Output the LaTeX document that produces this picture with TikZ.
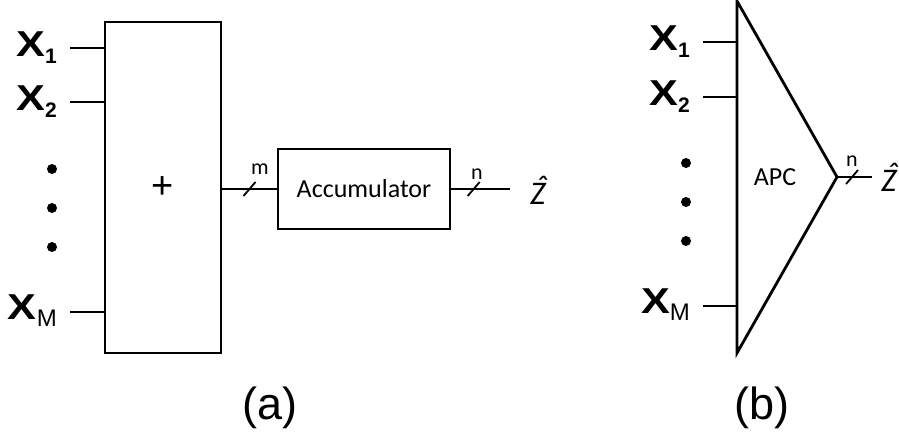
\documentclass[tikz,border=0pt]{standalone}
\usepackage{fontspec}
\setmainfont{Liberation Sans}
\newfontfamily\calib{Carlito}
\usetikzlibrary{positioning}

\newcommand{\inx}[1]{\scalebox{1.2}[1]{\bfseries X}\raisebox{-7pt}{#1}}
\newcommand{\zhat}{\makebox[0pt][l]{\hspace{0.16em}\raisebox{0.2em}{\char"02C6}}Z}

\begin{document}
\begin{tikzpicture}[x=1pt, y=-1pt,
    blk/.style={draw, line width=2.8pt, inner sep=0pt},
    wire/.style={line width=1.8pt},
    inlbl/.style={anchor=east, inner sep=0pt, font=\fontsize{36}{36}\selectfont},
    sub/.style={font=\calib\fontsize{22}{22}\selectfont, inner sep=0pt},
    dot/.style={circle, fill, inner sep=0pt, minimum size=10pt},
    zlbl/.style={anchor=base west, inner sep=0pt, font=\calib\itshape\fontsize{33}{33}\selectfont},
    figcap/.style={font=\fontsize{45}{45}\selectfont, inner sep=0pt}
]
    \useasboundingbox (0,0) rectangle (899,435);

    % (a) adder + accumulator
    \node[blk, minimum width=116, minimum height=331] (sum) at (163,187.5) {};
    \node[font=\fontsize{38}{38}\selectfont] (plus) at (163,188) {+};
    \node[blk, minimum width=172, minimum height=80, font=\calib\fontsize{26}{26}\selectfont] (acc) at (364,189) {Accumulator};

    \coordinate (a1) at (70,48);
    \coordinate (a2) at (70,102);
    \coordinate (aM) at (70,312);
    \node[inlbl] (ax1) at (57,48) {\inx{\fontsize{21}{21}\selectfont\bfseries 1}};
    \node[inlbl] (ax2) at (57,102) {\inx{\fontsize{21}{21}\selectfont\bfseries 2}};
    \node[inlbl] (axM) at (57,311) {\inx{\fontsize{24}{24}\selectfont M}};
    \draw[wire] (a1) -- (a1 -| sum.west);
    \draw[wire] (a2) -- (a2 -| sum.west);
    \draw[wire] (aM) -- (aM -| sum.west);
    \node[dot] (ad1) at (52,169) {};
    \node[dot] (ad2) at (52,208) {};
    \node[dot] (ad3) at (52,247) {};

    \draw[wire] (sum.east |- acc.west) -- coordinate (mslash) (acc.west);
    \draw[wire] ([shift={(-6,7)}]mslash) -- ([shift={(6,-7)}]mslash);
    \node[sub] (mlbl) at (260,169) {m};

    \coordinate (zout) at (510,189);
    \draw[wire] (acc.east) -- coordinate[pos=0.38] (nslash) (zout);
    \draw[wire] ([shift={(-6,7)}]nslash) -- ([shift={(6,-7)}]nslash);
    \node[sub] (nlbl) at (477,174) {n};
    \node[zlbl] (zhata) at (530,205) {\zhat};

    \node[figcap] (capa) at (270,408) {(a)};

    % (b) APC
    \coordinate (apctop) at (737,1);
    \coordinate (apcbot) at (737,353);
    \coordinate (apcout) at (837,177);
    \draw[line width=2.8pt, line join=miter] (apctop) -- (apcbot) -- (apcout) -- cycle;
    \node[font=\calib\fontsize{26}{26}\selectfont] (apc) at (775,177) {APC};

    \coordinate (b1) at (703,42);
    \coordinate (b2) at (703,97);
    \coordinate (bM) at (703,306);
    \node[inlbl] (bx1) at (690,42) {\inx{\fontsize{21}{21}\selectfont\bfseries 1}};
    \node[inlbl] (bx2) at (690,97) {\inx{\fontsize{21}{21}\selectfont\bfseries 2}};
    \node[inlbl] (bxM) at (690,305) {\inx{\fontsize{24}{24}\selectfont M}};
    \draw[wire] (b1) -- (b1 -| apctop);
    \draw[wire] (b2) -- (b2 -| apctop);
    \draw[wire] (bM) -- (bM -| apctop);
    \node[dot] (bd1) at (686,163) {};
    \node[dot] (bd2) at (686,202) {};
    \node[dot] (bd3) at (686,241) {};

    \coordinate (zoutb) at (872,177);
    \draw[wire] (apcout) -- coordinate[pos=0.43] (nslashb) (zoutb);
    \draw[wire] ([shift={(-6,7)}]nslashb) -- ([shift={(6,-7)}]nslashb);
    \node[sub] (nlblb) at (852,161) {n};
    \node[zlbl] (zhatb) at (881,192) {\zhat};

    \node[figcap] (capb) at (762,408) {(b)};
\end{tikzpicture}
\end{document}
